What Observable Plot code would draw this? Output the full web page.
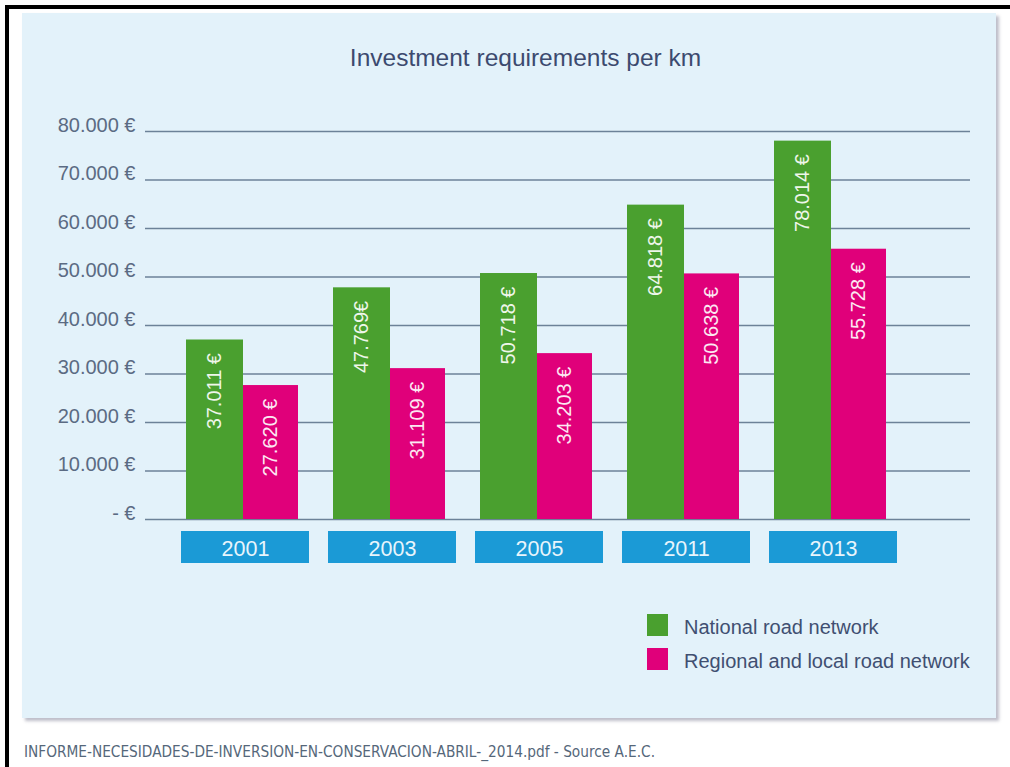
<!DOCTYPE html>
<html><head><meta charset="utf-8">
<script src="https://cdn.jsdelivr.net/npm/d3@7"></script>
<script src="https://cdn.jsdelivr.net/npm/@observablehq/plot@0.6"></script>
<style>
body{margin:0;background:#fff;}
#page{position:relative;width:1010px;height:767px;overflow:hidden;background:#fff;font-family:"Liberation Sans",Arial,Helvetica,sans-serif;}
#frame{position:absolute;left:5px;top:5px;width:1020px;height:780px;border-top:4px solid #000;border-left:4px solid #000;}
#panel{position:absolute;left:22px;top:13px;width:974px;height:705px;background:#e3f2fa;box-shadow:3px 3px 3px rgba(110,110,135,.45);}
#title{position:absolute;left:0;top:44px;width:1051px;text-align:center;font-size:24.5px;line-height:28px;color:#3c4a6f;}
#chart{position:absolute;left:0;top:0;}
#legend{position:absolute;left:0;top:0;}
.li{position:absolute;font-size:20px;line-height:24px;color:#404f71;white-space:nowrap;}
.sw{position:absolute;width:21px;height:22px;}
#caption{position:absolute;left:24px;top:742px;font-family:"Liberation Sans Narrow","DejaVu Sans Condensed","Liberation Sans",sans-serif;font-stretch:condensed;font-size:16px;line-height:20px;color:#55677a;white-space:nowrap;transform-origin:0 0;}
</style></head>
<body><div id="page"><div id="frame"></div><div id="panel"></div><div id="title">Investment requirements per km</div><div id="chart"></div><div id="legend"></div><div id="caption">INFORME-NECESIDADES-DE-INVERSION-EN-CONSERVACION-ABRIL-_2014.pdf - Source A.E.C.</div></div>
<script>
const years = ["2001", "2003", "2005", "2011", "2013"];
const national = [37011, 47769, 50718, 64818, 78014];
const regional = [27620, 31109, 34203, 50638, 55728];
const nationalLabels = ["37.011 €", "47.769€", "50.718 €", "64.818 €", "78.014 €"];
const regionalLabels = ["27.620 €", "31.109 €", "34.203 €", "50.638 €", "55.728 €"];
const series = ["National road network", "Regional and local road network"];
const colors = ["#4aa02f", "#e0007a"];
const yTicks = [0, 10000, 20000, 30000, 40000, 50000, 60000, 70000, 80000];
const yTickLabels = ["- €", "10.000 €", "20.000 €", "30.000 €", "40.000 €", "50.000 €", "60.000 €", "70.000 €", "80.000 €"];

const natRows = years.map((y, i) => ({year: y, value: national[i], label: nationalLabels[i]}));
const regRows = years.map((y, i) => ({year: y, value: regional[i], label: regionalLabels[i]}));

const plot = Plot.plot({
  width: 1010,
  height: 600,
  marginLeft: 145,
  marginRight: 40,
  marginTop: 131,
  marginBottom: 81,
  style: {background: "transparent", fontFamily: "'Liberation Sans', Arial, sans-serif", overflow: "visible"},
  x: {type: "band", domain: years, range: [180, 898], paddingInner: 0.132, paddingOuter: 0, axis: null},
  y: {domain: [0, 80000], axis: null},
  marks: [
    Plot.ruleY(yTicks, {stroke: "#6c8298", strokeWidth: 1.3}),
    Plot.text(yTicks, {y: d => d, text: (d, i) => yTickLabels[i], frameAnchor: "left", textAnchor: "end", lineAnchor: "middle", dx: -10, dy: -6, fontSize: 20, fill: "#5b6b83"}),
    Plot.barY(natRows, {x: "year", y: "value", fill: colors[0], insetLeft: 5, insetRight: 66}),
    Plot.barY(regRows, {x: "year", y: "value", fill: colors[1], insetLeft: 62, insetRight: 11}),
    Plot.text(natRows, {x: "year", y: "value", text: "label", rotate: -90, textAnchor: "end", dx: -30.5, dy: 13, fontSize: 20, fill: "#eef6ea"}),
    Plot.text(regRows, {x: "year", y: "value", text: "label", rotate: -90, textAnchor: "end", dx: 25.5, dy: 13, fontSize: 20, fill: "#fce8f2"}),
    Plot.barY(years, {x: d => d, y1: 0, y2: 0, fill: "#1b9ad6", insetTop: 12, insetBottom: -44}),
    Plot.text(years, {x: d => d, frameAnchor: "bottom", lineAnchor: "middle", dy: 30, fontSize: 21.5, fill: "#e8f5fc"})
  ]
});
document.getElementById("chart").appendChild(plot);

const legend = document.getElementById("legend");
series.forEach((s, i) => {
  const sw = document.createElement("div");
  sw.className = "sw";
  sw.style.left = "647px";
  sw.style.top = (614 + i * 34) + "px";
  sw.style.background = colors[i];
  legend.appendChild(sw);
  const t = document.createElement("div");
  t.className = "li";
  t.style.left = "684px";
  t.style.top = (615 + i * 34) + "px";
  t.textContent = s;
  legend.appendChild(t);
});

const cap = document.getElementById("caption");
const w = cap.getBoundingClientRect().width;
cap.style.transform = `scaleX(${631 / w})`;
</script></body></html>
